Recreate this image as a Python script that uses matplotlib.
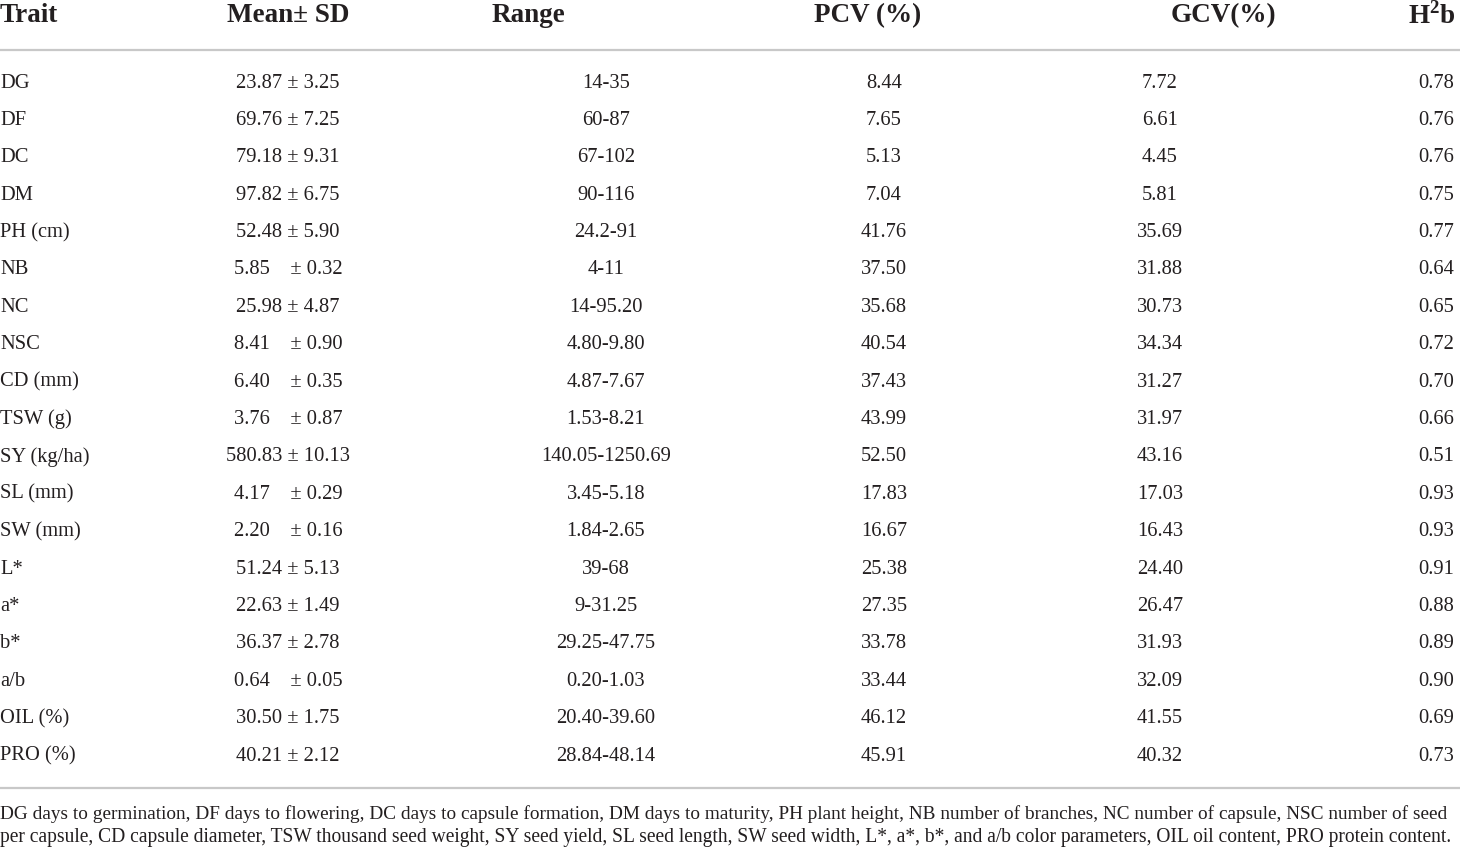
import matplotlib.pyplot as plt

plt.rcParams['font.family'] = ['Liberation Serif', 'DejaVu Serif']
plt.rcParams['mathtext.fontset'] = 'custom'
plt.rcParams['mathtext.rm'] = 'Liberation Serif'
plt.rcParams['mathtext.bf'] = 'Liberation Serif:bold'

traits = ['DG', 'DF', 'DC', 'DM', 'PH (cm)', 'NB', 'NC', 'NSC', 'CD (mm)', 'TSW (g)',
          'SY (kg/ha)', 'SL (mm)', 'SW (mm)', 'L*', 'a*', 'b*', 'a/b', 'OIL (%)', 'PRO (%)']
means = ['23.87', '69.76', '79.18', '97.82', '52.48', '5.85', '25.98', '8.41', '6.40', '3.76',
         '580.83', '4.17', '2.20', '51.24', '22.63', '36.37', '0.64', '30.50', '40.21']
sds = ['3.25', '7.25', '9.31', '6.75', '5.90', '0.32', '4.87', '0.90', '0.35', '0.87',
       '10.13', '0.29', '0.16', '5.13', '1.49', '2.78', '0.05', '1.75', '2.12']
ranges = ['14-35', '60-87', '67-102', '90-116', '24.2-91', '4-11', '14-95.20', '4.80-9.80',
          '4.87-7.67', '1.53-8.21', '140.05-1250.69', '3.45-5.18', '1.84-2.65', '39-68',
          '9-31.25', '29.25-47.75', '0.20-1.03', '20.40-39.60', '28.84-48.14']
pcv = ['8.44', '7.65', '5.13', '7.04', '41.76', '37.50', '35.68', '40.54', '37.43', '43.99',
       '52.50', '17.83', '16.67', '25.38', '27.35', '33.78', '33.44', '46.12', '45.91']
gcv = ['7.72', '6.61', '4.45', '5.81', '35.69', '31.88', '30.73', '34.34', '31.27', '31.97',
       '43.16', '17.03', '16.43', '24.40', '26.47', '31.93', '32.09', '41.55', '40.32']
h2b = ['0.78', '0.76', '0.76', '0.75', '0.77', '0.64', '0.65', '0.72', '0.70', '0.66',
       '0.51', '0.93', '0.93', '0.91', '0.88', '0.89', '0.90', '0.69', '0.73']

footnote = [
    'DG days to germination, DF days to flowering, DC days to capsule formation, DM days to maturity, '
    'PH plant height, NB number of branches, NC number of capsule, NSC number of seed',
    'per capsule, CD capsule diameter, TSW thousand seed weight, SY seed yield, SL seed length, '
    'SW seed width, L*, a*, b*, and a/b color parameters, OIL oil content, PRO protein content.',
]

W, H = 1460, 848
fig = plt.figure(figsize=(W / 100, H / 100), dpi=100)
ax = fig.add_axes([0, 0, 1, 1])
ax.set_xlim(0, W)
ax.set_ylim(H, 0)
ax.axis('off')

txt = '#231f20'
hs = 19.5
fs = 14.8

# header
hy = 16
ax.text(0, hy, 'Trait', ha='left', va='center', fontsize=hs, fontweight='bold', color=txt)
ax.text(288, hy, 'Mean\u00b1 SD', ha='center', va='center', fontsize=hs, fontweight='bold', color=txt)
ax.text(528, hy, 'Range', ha='center', va='center', fontsize=hs, fontweight='bold', color=txt)
ax.text(868, hy, 'PCV (%)', ha='center', va='center', fontsize=hs, fontweight='bold', color=txt)
ax.text(1223, hy, 'GCV(%)', ha='center', va='center', fontsize=hs, fontweight='bold', color=txt)
ax.text(1456, hy, r'H$^\mathbf{2}$b', ha='right', va='center', fontsize=hs, fontweight='bold', color=txt)

ax.plot([0, W], [50, 50], color='#c8c8c8', lw=1.6)

y0, dy = 83, 37.39
for i in range(len(traits)):
    y = y0 + i * dy
    gap = ' \u00b1 ' if len(means[i]) > 4 else '    \u00b1 '
    ax.text(0, y, traits[i], ha='left', va='center', fontsize=fs, color=txt)
    ax.text(288, y, means[i] + gap + sds[i], ha='center', va='center', fontsize=fs, color=txt)
    ax.text(606, y, ranges[i], ha='center', va='center', fontsize=fs, color=txt)
    ax.text(884, y, pcv[i], ha='center', va='center', fontsize=fs, color=txt)
    ax.text(1160, y, gcv[i], ha='center', va='center', fontsize=fs, color=txt)
    ax.text(1454, y, h2b[i], ha='right', va='center', fontsize=fs, color=txt)

ax.plot([0, W], [788, 788], color='#c8c8c8', lw=1.6)

# footnote
ax.text(0, 819, footnote[0], ha='left', va='baseline', fontsize=13.85, color=txt)
ax.text(0, 842, footnote[1], ha='left', va='baseline', fontsize=14.05, color=txt)

fig.savefig('out.png', dpi=100, facecolor='white')
